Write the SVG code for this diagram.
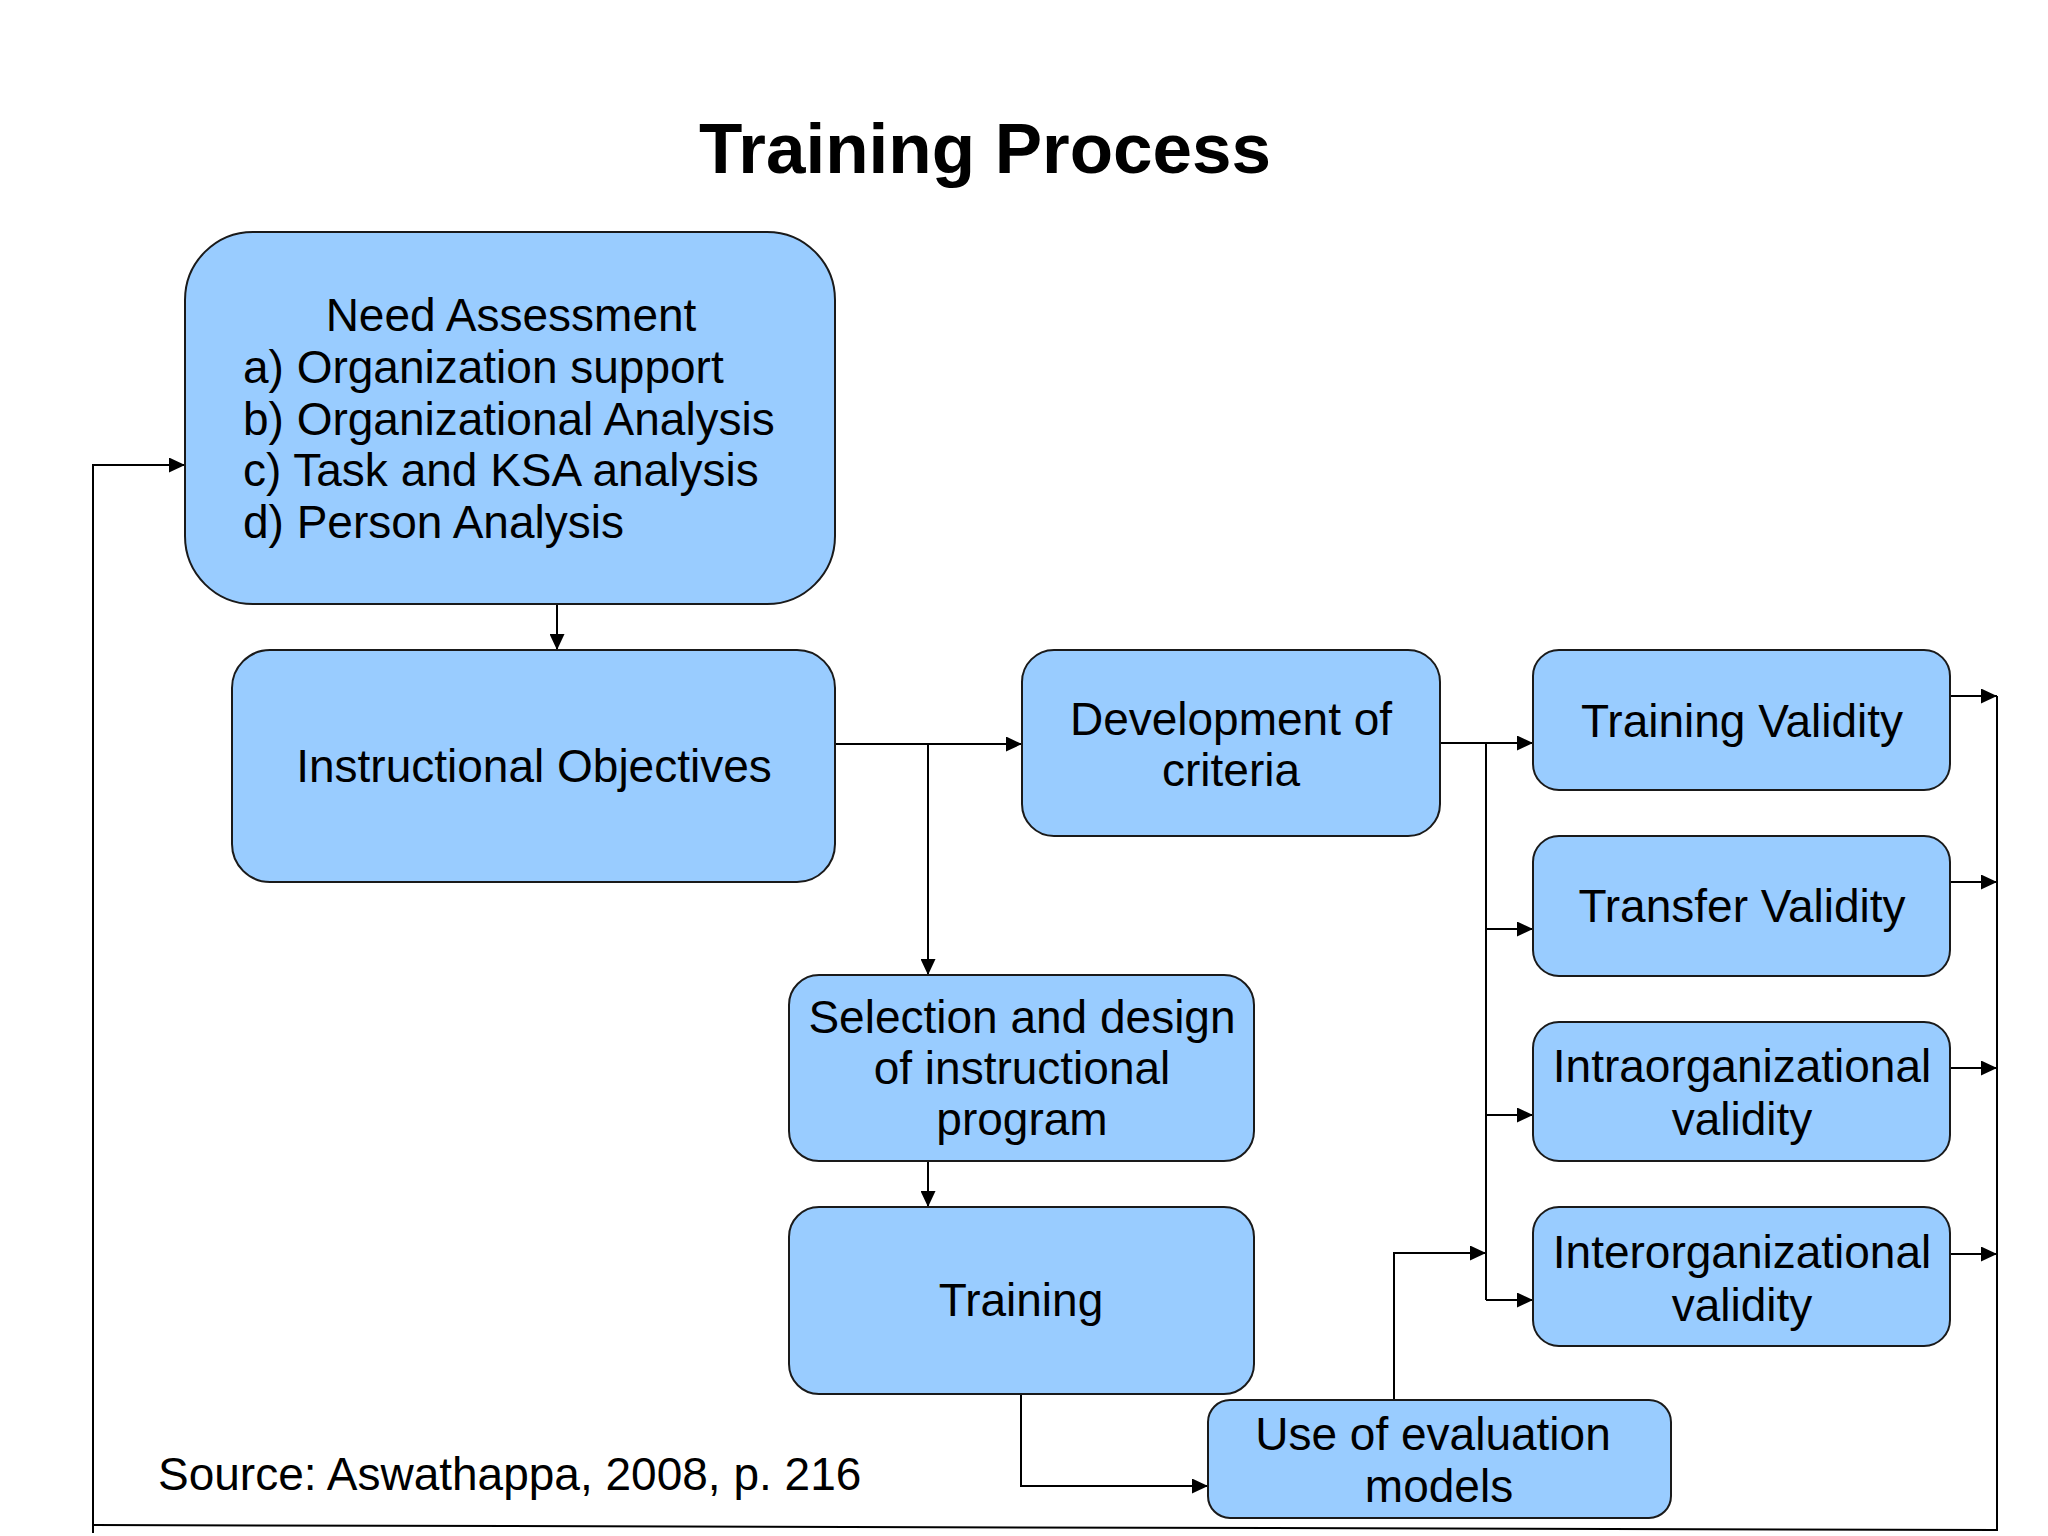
<svg xmlns="http://www.w3.org/2000/svg" width="2048" height="1536" viewBox="0 0 2048 1536">
<defs>
<marker id="arr" markerUnits="userSpaceOnUse" markerWidth="17" markerHeight="15" refX="16" refY="7.5" orient="auto">
<path d="M0,0 L16,7.5 L0,15 z" fill="#000"/>
</marker>
<style>
.box{fill:#99CCFF;stroke:#1a1a1a;stroke-width:2}
.t{font-family:"Liberation Sans",Arial,sans-serif;font-size:46px;fill:#000}
.c{text-anchor:middle}
.ln{fill:none;stroke:#000;stroke-width:2}
.a{marker-end:url(#arr)}
</style>
</defs>
<rect width="2048" height="1536" fill="#fff"/>
<text x="985" y="173" font-family="Liberation Sans,Arial,sans-serif" font-size="71" font-weight="bold" text-anchor="middle">Training Process</text>

<g id="connectors">
<path class="ln a" d="M557,604 V650"/>
<path class="ln a" d="M835,744 H1022"/>
<path class="ln a" d="M928,744 V975"/>
<path class="ln a" d="M928,1161 V1207"/>
<path class="ln a" d="M1021,1394 V1486 H1208"/>
<path class="ln a" d="M1394,1400 V1253 H1486"/>
<path class="ln a" d="M1440,743 H1533"/>
<path class="ln" d="M1486,743 V1300"/>
<path class="ln a" d="M1486,929 H1533"/>
<path class="ln a" d="M1486,1115 H1533"/>
<path class="ln a" d="M1486,1300 H1533"/>
<path class="ln a" d="M1950,696 H1997"/>
<path class="ln a" d="M1950,882 H1997"/>
<path class="ln a" d="M1950,1068 H1997"/>
<path class="ln a" d="M1950,1254 H1997"/>
<path class="ln" d="M1997,696 V1531"/>
<path class="ln" d="M1997,1530 L93,1525"/>
<path class="ln a" d="M93,1533 V465 H185"/>
</g>

<g id="need-assessment">
<rect class="box" x="185" y="232" width="650" height="372" rx="68" ry="68"/>
<text class="t c" x="511" y="331">Need Assessment</text>
<text class="t" x="243" y="383">a) Organization support</text>
<text class="t" x="243" y="435">b) Organizational Analysis</text>
<text class="t" x="243" y="486">c) Task and KSA analysis</text>
<text class="t" x="243" y="538">d) Person Analysis</text>
</g>

<g id="instructional-objectives">
<rect class="box" x="232" y="650" width="603" height="232" rx="38" ry="38"/>
<text class="t c" x="534" y="782">Instructional Objectives</text>
</g>

<g id="development-criteria">
<rect class="box" x="1022" y="650" width="418" height="186" rx="32" ry="32"/>
<text class="t c" x="1231" y="735">Development of</text>
<text class="t c" x="1231" y="786">criteria</text>
</g>

<g id="selection-design">
<rect class="box" x="789" y="975" width="465" height="186" rx="30" ry="30"/>
<text class="t c" x="1022" y="1033">Selection and design</text>
<text class="t c" x="1022" y="1084">of instructional</text>
<text class="t c" x="1022" y="1135">program</text>
</g>

<g id="training">
<rect class="box" x="789" y="1207" width="465" height="187" rx="30" ry="30"/>
<text class="t c" x="1021" y="1316">Training</text>
</g>

<g id="use-evaluation">
<rect class="box" x="1208" y="1400" width="463" height="118" rx="22" ry="22"/>
<text class="t c" x="1433" y="1450">Use of evaluation</text>
<text class="t c" x="1439" y="1502">models</text>
</g>

<g id="training-validity">
<rect class="box" x="1533" y="650" width="417" height="140" rx="26" ry="26"/>
<text class="t c" x="1742" y="737">Training Validity</text>
</g>

<g id="transfer-validity">
<rect class="box" x="1533" y="836" width="417" height="140" rx="26" ry="26"/>
<text class="t c" x="1742" y="922">Transfer Validity</text>
</g>

<g id="intraorganizational-validity">
<rect class="box" x="1533" y="1022" width="417" height="139" rx="26" ry="26"/>
<text class="t c" x="1742" y="1082">Intraorganizational</text>
<text class="t c" x="1742" y="1135">validity</text>
</g>

<g id="interorganizational-validity">
<rect class="box" x="1533" y="1207" width="417" height="139" rx="26" ry="26"/>
<text class="t c" x="1742" y="1268">Interorganizational</text>
<text class="t c" x="1742" y="1321">validity</text>
</g>

<text class="t" x="158" y="1490">Source: Aswathappa, 2008, p. 216</text>
</svg>
